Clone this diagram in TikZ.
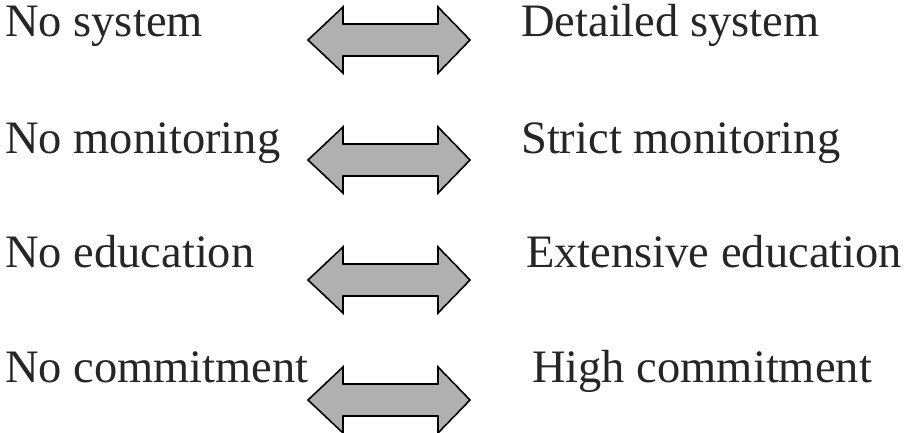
\documentclass[tikz,border=0pt]{standalone}
\usepackage{fontspec}
\setmainfont{Liberation Serif}
\begin{document}
\begin{tikzpicture}[x=1pt,y=-1pt,
  lbl/.style={anchor=base west, inner sep=0pt, text=black!85, font=\fontsize{46.5}{56}\selectfont},
  dblarrow/.style={draw=black, line width=1.6pt, fill=gray!62, line join=miter}]
\useasboundingbox (0,0) rectangle (904,433);
% labels
\node[lbl] (l1) at (5,37)  {No system};
\node[lbl] (l2) at (5,153) {No monitoring};
\node[lbl] (l3) at (5,267) {No education};
\node[lbl] (l4) at (5,382) {No commitment};
\node[lbl] (r1) at (521,37)  {Detailed system};
\node[lbl] (r2) at (521,153) {Strict monitoring};
\node[lbl] (r3) at (526,267) {Extensive education};
\node[lbl] (r4) at (532,382) {High commitment};
% double arrows
\foreach \cy in {40,160,280,400}{
  \draw[dblarrow] (308,\cy) -- (343,\cy-33) -- (343,\cy-16) -- (438,\cy-16)
    -- (438,\cy-33) -- (470,\cy) -- (438,\cy+33) -- (438,\cy+16)
    -- (343,\cy+16) -- (343,\cy+33) -- cycle;
}
\end{tikzpicture}
\end{document}
